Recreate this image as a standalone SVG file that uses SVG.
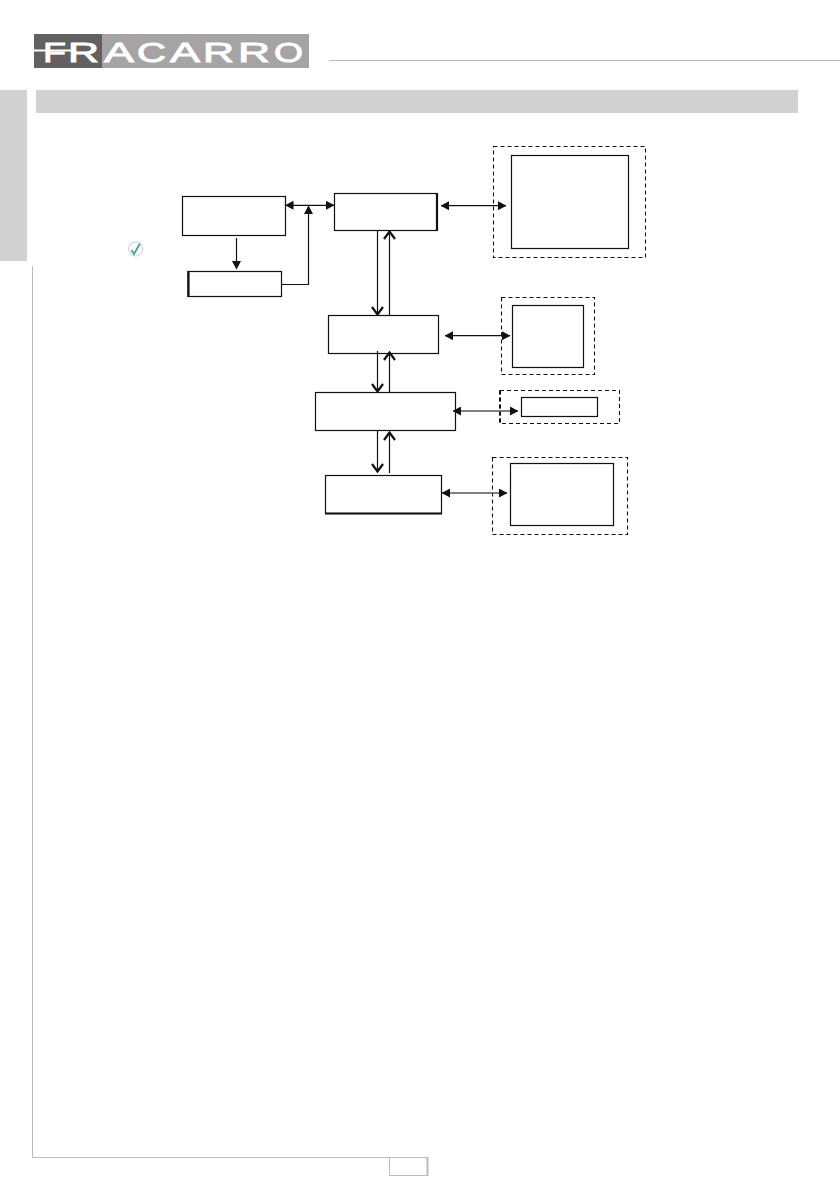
<svg xmlns="http://www.w3.org/2000/svg" width="840" height="1192" viewBox="0 0 840 1192">
<style>
.box{fill:#fff;stroke:#111;stroke-width:1.2}
.inner{fill:none;stroke:#111;stroke-width:1.2}
.dash{fill:none;stroke:#111;stroke-width:1.1;stroke-dasharray:4 3}
.thick{fill:none;stroke:#111;stroke-width:2.2}
.fr{stroke:#111;stroke-width:1.2;fill:none;marker-start:url(#tri);marker-end:url(#tri)}
.frg{stroke:#555;stroke-width:1.6;fill:none;marker-start:url(#tri);marker-end:url(#tri)}
.fe{stroke:#111;stroke-width:1.2;fill:none;marker-end:url(#tri)}
.op{stroke:#111;stroke-width:1.2;fill:none;marker-end:url(#open)}
.frame{fill:none;stroke:#bbb;stroke-width:1}
.logo{font-family:"Liberation Sans",Arial,sans-serif;font-size:27px;fill:#fff;stroke:#fff;stroke-width:0.9}
</style>
<defs>
<marker id="tri" viewBox="0 0 8.5 9" refX="8" refY="4.5" markerWidth="8.5" markerHeight="9" markerUnits="userSpaceOnUse" orient="auto-start-reverse"><path d="M0 0L8.5 4.5L0 9Z" fill="#111"/></marker>
<marker id="open" viewBox="0 0 10 14" refX="9" refY="7" markerWidth="10" markerHeight="14" markerUnits="userSpaceOnUse" orient="auto"><path d="M1 1.5L8.5 7L1 12.5" fill="none" stroke="#111" stroke-width="2.2"/></marker>
</defs>
<g id="page">
<rect x="34" y="34" width="275" height="34" fill="#a5a3a3"/>
<rect x="34" y="34" width="68" height="34" fill="#626060"/>
<text class="logo" x="43" y="62.3" textLength="23" lengthAdjust="spacingAndGlyphs">F</text>
<text class="logo" x="68" y="62.3" textLength="31" lengthAdjust="spacingAndGlyphs">R</text>
<text class="logo" x="104" y="62.3" textLength="30" lengthAdjust="spacingAndGlyphs">A</text>
<text class="logo" x="137" y="62.3" textLength="29" lengthAdjust="spacingAndGlyphs">C</text>
<text class="logo" x="170" y="62.3" textLength="30" lengthAdjust="spacingAndGlyphs">A</text>
<text class="logo" x="203" y="62.3" textLength="31" lengthAdjust="spacingAndGlyphs">R</text>
<text class="logo" x="238" y="62.3" textLength="32" lengthAdjust="spacingAndGlyphs">R</text>
<text class="logo" x="274" y="62.3" textLength="29" lengthAdjust="spacingAndGlyphs">O</text>
<path d="M34 50.5H72" stroke="#fff" stroke-width="2" fill="none"/>
<path d="M329 60.5H840" stroke="#bbb" stroke-width="1" fill="none"/>
<rect x="36" y="90" width="762" height="23" fill="#d1d1d1"/>
<rect x="0" y="90" width="27" height="171" fill="#d1d1d1"/>
<path class="frame" d="M32.5 266V1157.5H428"/>
<path d="M389.5 1157.5V1175.5H427" fill="none" stroke="#bbb" stroke-width="1"/>
<path d="M427.5 1157V1176" fill="none" stroke="#bbb" stroke-width="2"/>
<circle cx="135.7" cy="249" r="7" fill="#fff" stroke="#bbb" stroke-width="0.8"/>
<path d="M131.5 250L134 254L140 243.5" fill="none" stroke="#2fa8a8" stroke-width="1.7"/>
</g>
<g id="node-a"><rect class="box" x="182.5" y="196.5" width="103" height="39"/></g>
<g id="node-b"><rect class="box" x="188" y="271.5" width="93.5" height="25"/><path class="thick" d="M188.5 271V297"/></g>
<g id="node-c"><rect class="box" x="334.5" y="193.5" width="102.5" height="37"/><path class="thick" d="M437 193V231"/></g>
<g id="node-d"><rect class="box" x="328.5" y="315.5" width="110" height="38"/></g>
<g id="node-e"><rect class="box" x="315.5" y="392.5" width="140" height="38"/></g>
<g id="node-f"><rect class="box" x="325.5" y="475.5" width="116" height="38"/><path class="thick" d="M325 513.5H442"/></g>
<g id="group-1"><rect class="dash" x="493.5" y="146.5" width="152" height="111"/><rect class="inner" x="511.5" y="155.5" width="117" height="93"/></g>
<g id="group-2"><rect class="dash" x="501.5" y="297.5" width="93" height="77"/><rect class="inner" x="512.5" y="305.5" width="71" height="62"/></g>
<g id="group-3"><rect class="dash" x="500" y="390.5" width="119.5" height="33"/><path class="dash" style="stroke-width:2" d="M500 390.5V423.5"/><rect class="inner" x="521.5" y="397.5" width="76" height="19"/></g>
<g id="group-4"><rect class="dash" x="492.5" y="457.5" width="135" height="77"/><rect class="inner" x="510.5" y="463.5" width="103" height="62"/></g>
<g id="connectors">
<path class="fr" d="M285.5 205.3H334"/>
<path class="fe" d="M236.5 238V269"/>
<path class="fe" d="M282 284.5H308.5V206"/>
<path class="fr" d="M441 205.7H506"/>
<path class="op" d="M377.5 231V315"/>
<path class="op" d="M389.5 315V231"/>
<path class="fr" d="M445 335.7H510"/>
<path class="op" d="M377.5 351V392"/>
<path class="op" d="M389.5 392V352"/>
<path class="frg" d="M453 411H518"/>
<path class="op" d="M377.5 431V472"/>
<path class="op" d="M389.5 473V432"/>
<path class="frg" d="M442 493H507"/>
</g>
</svg>
